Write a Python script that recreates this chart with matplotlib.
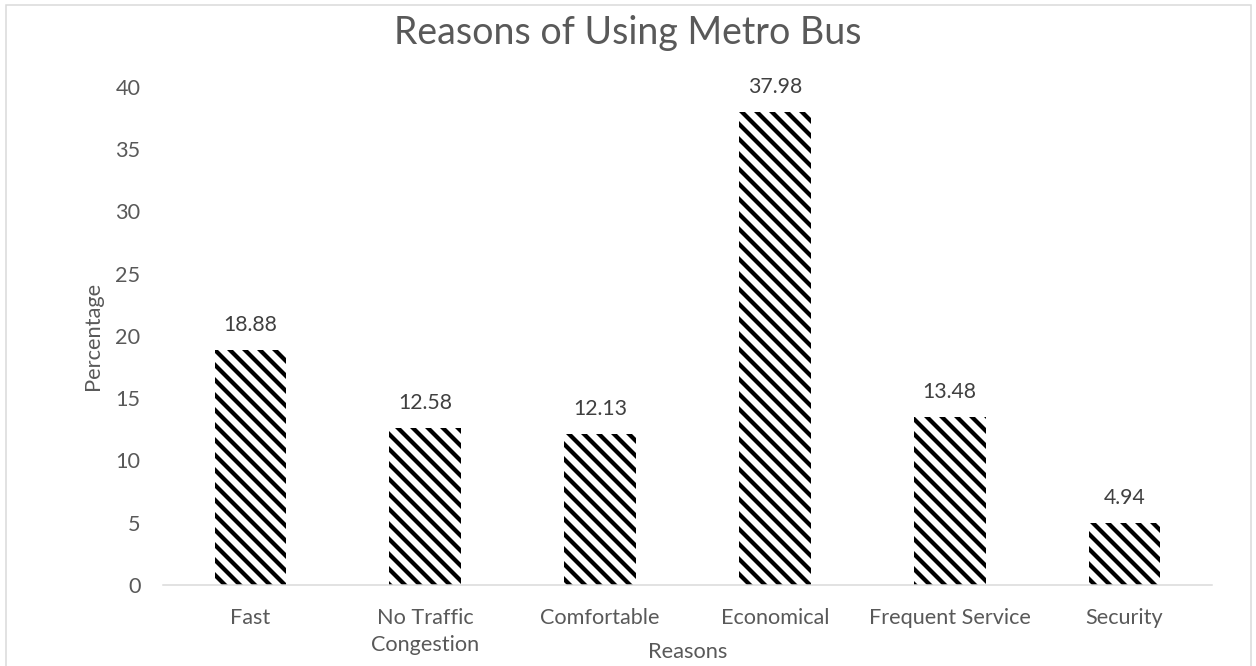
import matplotlib
matplotlib.use("Agg")
import matplotlib.pyplot as plt
from matplotlib.patches import Rectangle

categories = ["Fast", "No Traffic\nCongestion", "Comfortable", "Economical", "Frequent Service", "Security"]
values = [18.88, 12.58, 12.13, 37.98, 13.48, 4.94]
yticks = [0, 5, 10, 15, 20, 25, 30, 35, 40]

DPI = 90
W, H = 1256, 666
plt.rcParams['font.family'] = ['Lato', 'DejaVu Sans']
plt.rcParams['hatch.linewidth'] = 3.4

fig = plt.figure(figsize=(W / DPI, H / DPI), dpi=DPI)
fig.patch.set_facecolor('white')
fig.patches.append(Rectangle((6 / W, -0.05), (1251 - 6) / W, 1 - 5 / H + 0.05,
                             transform=fig.transFigure, fill=False,
                             edgecolor='#d9d9d9', linewidth=1.2))

ax = fig.add_axes([163 / W, 1 - 585 / H, (1212 - 163) / W, (585 - 87) / H])
x = list(range(len(categories)))
bars = ax.bar(x, values, width=0.41, color='white', edgecolor='black',
              linewidth=0, hatch='\\\\')
ax.set_xlim(-0.5, len(categories) - 0.5)
ax.set_ylim(0, 40)
ax.set_yticks(yticks)
ax.set_xticks(x)
ax.set_xticklabels(categories, linespacing=1.45, va='top')
for s in ['top', 'right', 'left']:
    ax.spines[s].set_visible(False)
ax.spines['bottom'].set_color('#d9d9d9')
ax.spines['bottom'].set_linewidth(1.2)
ax.tick_params(axis='both', length=0, colors='#595959', labelsize=17.3)
ax.tick_params(axis='y', pad=18)
ax.tick_params(axis='x', pad=18)

for xi, v in zip(x, values):
    ax.annotate(f"{v:.2f}", (xi, v), xytext=(0, 12), textcoords='offset points',
                ha='center', va='bottom', color='#404040', fontsize=17)

fig.text(0.5, 1 - 33 / H, "Reasons of Using Metro Bus", color='#595959',
         fontsize=30, ha='center', va='center')
fig.text((163 + 1212) / 2 / W, 1 - 652 / H, "Reasons", color='#595959',
         fontsize=17.5, ha='center', va='center')
ax.set_ylabel("Percentage", color='#595959', fontsize=17.5, labelpad=10)

fig.savefig("out.png", dpi=DPI)
